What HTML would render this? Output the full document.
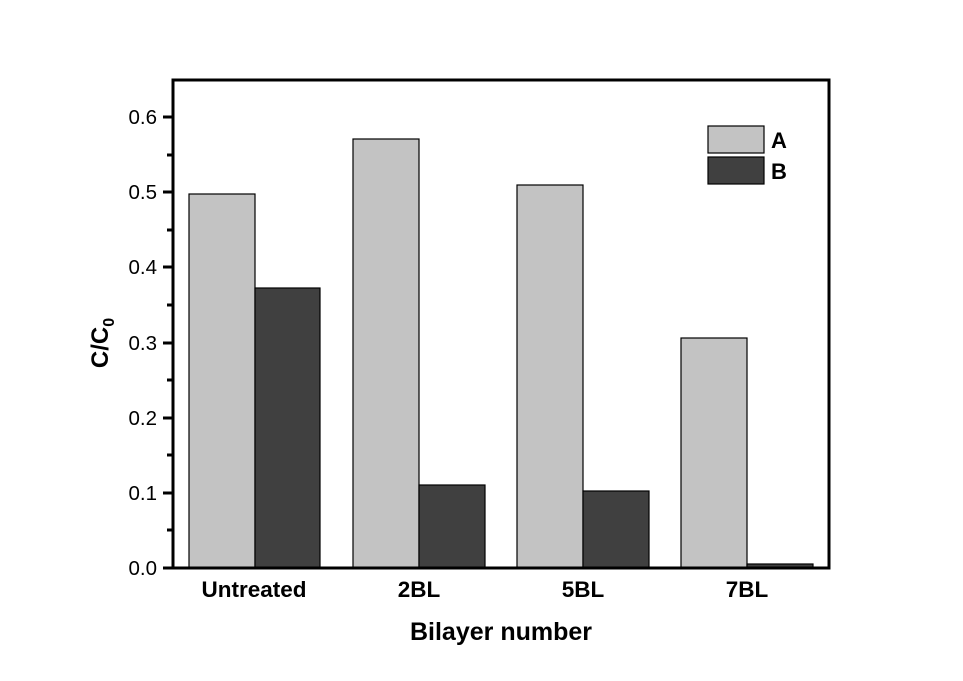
<!DOCTYPE html>
<html><head><meta charset="utf-8"><style>
body{margin:0;background:#fff}
svg{display:block}
text{font-family:"Liberation Sans",Arial,sans-serif}
</style></head><body>
<svg width="963" height="681" viewBox="0 0 963 681">
<rect width="963" height="681" fill="#fff"/>
<g stroke="#000" stroke-width="1.2">
<rect x="189" y="194" width="66" height="374" fill="#c3c3c3"/>
<rect x="255" y="288" width="65" height="280" fill="#404040"/>
<rect x="353" y="139" width="66" height="429" fill="#c3c3c3"/>
<rect x="419" y="485" width="66" height="83" fill="#404040"/>
<rect x="517" y="185" width="66" height="383" fill="#c3c3c3"/>
<rect x="583" y="491" width="66" height="77" fill="#404040"/>
<rect x="681" y="338" width="66" height="230" fill="#c3c3c3"/>
<rect x="747" y="564" width="66" height="4" fill="#404040"/>
<rect x="708" y="126" width="56" height="27" fill="#c3c3c3"/>
<rect x="708" y="157" width="56" height="27" fill="#404040"/>
</g>
<rect x="173" y="80" width="656" height="488" fill="none" stroke="#000" stroke-width="3"/>
<g stroke="#000" stroke-width="3">
<line x1="163" y1="568" x2="173" y2="568"/><line x1="167" y1="530" x2="173" y2="530"/>
<line x1="163" y1="493" x2="173" y2="493"/><line x1="167" y1="455" x2="173" y2="455"/>
<line x1="163" y1="418" x2="173" y2="418"/><line x1="167" y1="380" x2="173" y2="380"/>
<line x1="163" y1="343" x2="173" y2="343"/><line x1="167" y1="305" x2="173" y2="305"/>
<line x1="163" y1="267" x2="173" y2="267"/><line x1="167" y1="230" x2="173" y2="230"/>
<line x1="163" y1="192" x2="173" y2="192"/><line x1="167" y1="155" x2="173" y2="155"/>
<line x1="163" y1="117" x2="173" y2="117"/>
</g>
<g font-size="20.5" text-anchor="end">
<text x="157" y="575">0.0</text><text x="157" y="500">0.1</text><text x="157" y="425">0.2</text>
<text x="157" y="350">0.3</text><text x="157" y="274">0.4</text><text x="157" y="199">0.5</text>
<text x="157" y="124">0.6</text>
</g>
<g font-size="22.5" font-weight="bold" text-anchor="middle">
<text x="254" y="597">Untreated</text><text x="419" y="597">2BL</text>
<text x="583" y="597">5BL</text><text x="747" y="597">7BL</text>
</g>
<text x="501" y="640" font-size="25" font-weight="bold" text-anchor="middle">Bilayer number</text>
<text transform="translate(108,343) rotate(-90)" font-size="24" font-weight="bold" text-anchor="middle">C/C<tspan font-size="16" dy="6">0</tspan></text>
<g font-size="22" font-weight="bold"><text x="771" y="148">A</text><text x="771" y="179">B</text></g>
</svg>
</body></html>
